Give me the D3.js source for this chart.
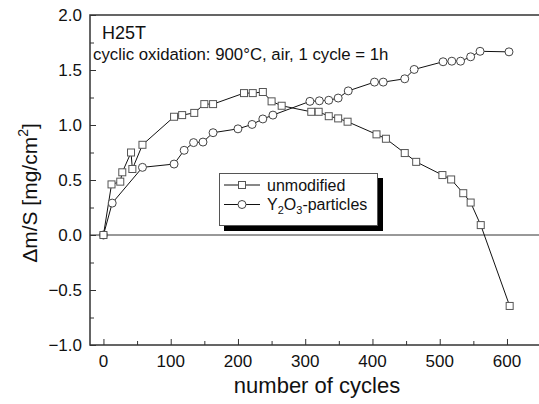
<!DOCTYPE html>
<html>
<head>
<meta charset="utf-8">
<script src="https://cdn.jsdelivr.net/npm/d3@7"></script>
<style>
  body { margin: 0; background: #fff; }
  svg { display: block; font-family: Arial, "Liberation Sans", sans-serif; }
</style>
</head>
<body>
<div id="chart"></div>
<script>
// cycles / mass change, unmodified
const cyclesUnmod = [0, 12, 25, 28, 41, 43, 58, 105, 117, 135, 150, 163, 209, 222, 237, 250, 265,
  309, 320, 335, 349, 363, 406, 420, 448, 465, 504, 517, 535, 546, 561, 604];
const massUnmod = [0, 0.46, 0.485, 0.57, 0.75, 0.60, 0.82, 1.075, 1.09, 1.11, 1.19, 1.19, 1.29, 1.29, 1.30, 1.215, 1.175,
  1.12, 1.12, 1.08, 1.06, 1.03, 0.915, 0.875, 0.745, 0.665, 0.545, 0.505, 0.38, 0.295, 0.09, -0.645];

// Y2O3-particles
const cyclesY2O3 = [0, 13, 58, 105, 120, 134, 148, 163, 200, 221, 237, 252, 307, 321, 335, 349, 364,
  403, 416, 448, 462, 505, 518, 531, 546, 560, 603];
const massY2O3 = [0, 0.29, 0.615, 0.645, 0.77, 0.84, 0.845, 0.93, 0.965, 1.005, 1.055, 1.09, 1.215, 1.22, 1.225, 1.245, 1.31,
  1.39, 1.39, 1.42, 1.505, 1.575, 1.58, 1.58, 1.62, 1.67, 1.665];

const xTicks = [0, 100, 200, 300, 400, 500, 600];
const yTicks = [-1.0, -0.5, 0.0, 0.5, 1.0, 1.5, 2.0];

const width = 539, height = 404;
const mLeft = 90, mTop = 15, mBottom = 345;

const svg = d3.select("#chart").append("svg")
  .attr("width", width)
  .attr("height", height);

const x = d3.scaleLinear().domain([-20, 650]).range([mLeft, 540.6]);
const y = d3.scaleLinear().domain([-1, 2]).range([mBottom, mTop]);

// frame (right side falls outside the picture)
svg.append("rect")
  .attr("x", mLeft).attr("y", mTop)
  .attr("width", 460).attr("height", mBottom - mTop)
  .attr("fill", "none")
  .attr("stroke", "#333")
  .attr("stroke-width", 1.5);

// zero line
svg.append("line")
  .attr("x1", mLeft).attr("x2", width)
  .attr("y1", y(0)).attr("y2", y(0))
  .attr("stroke", "#333")
  .attr("stroke-width", 1);

// y axis, ticks pointing inward
const yAxis = svg.append("g").attr("transform", `translate(${mLeft},0)`);
yAxis.call(d3.axisRight(y).tickValues(d3.range(-1, 2.01, 0.25)).tickSize(4).tickFormat(""));
yAxis.call(g => g.select(".domain").remove());
yAxis.selectAll(".tick line")
  .attr("stroke", "#333")
  .attr("x2", d => Math.abs(d * 2 - Math.round(d * 2)) < 1e-6 ? 6 : 4);
svg.append("g").selectAll("text")
  .data(yTicks)
  .join("text")
  .attr("x", 82)
  .attr("y", d => y(d) + 6)
  .attr("text-anchor", "end")
  .attr("font-size", 17)
  .attr("fill", "#111")
  .text(d => d3.format(".1f")(d));

// x axis, ticks pointing inward
const xAxis = svg.append("g").attr("transform", `translate(0,${mBottom})`);
xAxis.call(d3.axisTop(x).tickValues(d3.range(0, 651, 50)).tickSize(4).tickFormat(""));
xAxis.call(g => g.select(".domain").remove());
xAxis.selectAll(".tick line")
  .attr("stroke", "#333")
  .attr("y2", d => d % 100 === 0 ? -6 : -4);
svg.append("g").selectAll("text")
  .data(xTicks)
  .join("text")
  .attr("x", d => x(d))
  .attr("y", 367)
  .attr("text-anchor", "middle")
  .attr("font-size", 17)
  .attr("fill", "#111")
  .text(d => d);

// axis titles
svg.append("text")
  .attr("x", 317)
  .attr("y", 393)
  .attr("text-anchor", "middle")
  .attr("font-size", 22)
  .attr("fill", "#111")
  .text("number of cycles");

const yTitle = svg.append("text")
  .attr("transform", "translate(37,193) rotate(-90)")
  .attr("text-anchor", "middle")
  .attr("font-size", 21)
  .attr("fill", "#111");
yTitle.append("tspan").text("Δm/S [mg/cm");
yTitle.append("tspan").attr("font-size", 14).attr("dy", -9).text("2");
yTitle.append("tspan").attr("dy", 9).text("]");

// annotations
svg.append("text")
  .attr("x", 102).attr("y", 39)
  .attr("font-size", 18)
  .attr("fill", "#111")
  .text("H25T");
svg.append("text")
  .attr("x", 93).attr("y", 60)
  .attr("font-size", 16.8)
  .attr("fill", "#111")
  .text("cyclic oxidation: 900°C, air, 1 cycle = 1h");

// series
const unmod = cyclesUnmod.map((c, i) => ({ c, m: massUnmod[i] }));
const y2o3 = cyclesY2O3.map((c, i) => ({ c, m: massY2O3[i] }));

const line = d3.line().x(d => x(d.c)).y(d => y(d.m));

svg.append("path").datum(y2o3)
  .attr("d", line).attr("fill", "none").attr("stroke", "#111").attr("stroke-width", 1);
svg.append("path").datum(unmod)
  .attr("d", line).attr("fill", "none").attr("stroke", "#111").attr("stroke-width", 1);

svg.append("g").selectAll("circle")
  .data(y2o3)
  .join("circle")
  .attr("cx", d => x(d.c))
  .attr("cy", d => y(d.m))
  .attr("r", 4)
  .attr("fill", "#fff")
  .attr("stroke", "#444")
  .attr("stroke-width", 1);

svg.append("g").selectAll("rect")
  .data(unmod)
  .join("rect")
  .attr("x", d => x(d.c) - 3.5)
  .attr("y", d => y(d.m) - 3.5)
  .attr("width", 7)
  .attr("height", 7)
  .attr("fill", "#fff")
  .attr("stroke", "#555")
  .attr("stroke-width", 1);

// legend
const lg = svg.append("g");
lg.append("rect")
  .attr("x", 224).attr("y", 178)
  .attr("width", 159).attr("height", 53)
  .attr("fill", "#000");
lg.append("rect")
  .attr("x", 219.5).attr("y", 173.5)
  .attr("width", 158).attr("height", 52)
  .attr("fill", "#fff")
  .attr("stroke", "#555")
  .attr("stroke-width", 1);

const rows = [
  { y: 185, kind: "square" },
  { y: 204.5, kind: "circle" }
];
rows.forEach(r => {
  lg.append("line")
    .attr("x1", 224).attr("x2", 260)
    .attr("y1", r.y).attr("y2", r.y)
    .attr("stroke", "#111");
  if (r.kind === "square") {
    lg.append("rect")
      .attr("x", 238.5).attr("y", r.y - 3.5)
      .attr("width", 7).attr("height", 7)
      .attr("fill", "#fff").attr("stroke", "#555");
  } else {
    lg.append("circle")
      .attr("cx", 242).attr("cy", r.y).attr("r", 4)
      .attr("fill", "#fff").attr("stroke", "#444");
  }
});
lg.append("text")
  .attr("x", 267).attr("y", 191)
  .attr("font-size", 16)
  .attr("fill", "#111")
  .text("unmodified");
const t2 = lg.append("text")
  .attr("x", 267).attr("y", 210)
  .attr("font-size", 16)
  .attr("fill", "#111");
t2.append("tspan").text("Y");
t2.append("tspan").attr("font-size", 11).attr("dy", 4).text("2");
t2.append("tspan").attr("dy", -4).text("O");
t2.append("tspan").attr("font-size", 11).attr("dy", 4).text("3");
t2.append("tspan").attr("dy", -4).text("-particles");
</script>
</body>
</html>
